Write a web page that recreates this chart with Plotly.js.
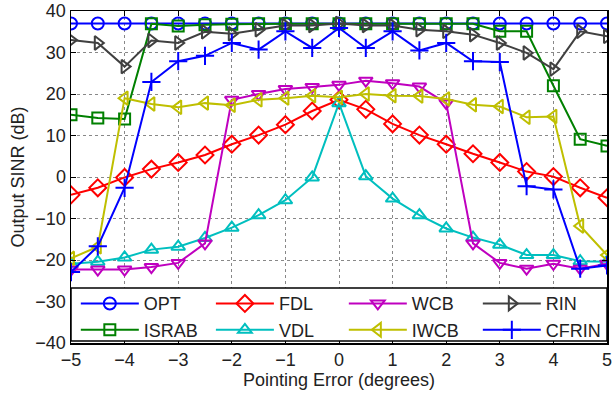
<!DOCTYPE html>
<html><head><meta charset="utf-8">
<script src="https://cdn.plot.ly/plotly-3.0.1.min.js"></script>
<style>body{margin:0;background:#fff}#c{width:612px;height:396px}</style>
</head><body><div id="c"></div>
<script>
const pointingError = [-5,-4.5,-4,-3.5,-3,-2.5,-2,-1.5,-1,-0.5,0,0.5,1,1.5,2,2.5,3,3.5,4,4.5,5];
const OPT   = [37,37,37,37,37,37,37,37,37,37,37,37,37,37,37,37,37,37,37,37,37];
const ISRAB = [15,14.2,14,36.9,36.4,36.7,36.8,36.9,36.9,36.9,36.9,36.9,36.9,36.9,36.9,36.9,35.1,35.1,22,9.1,7.5];
const FDL   = [-4.3,-2.6,-0.1,1.9,3.5,5.3,7.9,10.1,12.6,15.9,18.6,16.3,12.8,10.1,7.9,5.6,3.5,1.3,0.1,-2.6,-5.0];
const VDL   = [-20.9,-20.4,-19.4,-17.5,-16.8,-14.7,-12.2,-9.2,-5.6,-0.1,17.8,0.2,-5.2,-9.2,-12.4,-14.6,-16.3,-18.8,-18.8,-20.3,-20.4];
const WCB   = [-22.3,-22.3,-22.3,-21.7,-20.7,-16.0,18.6,20.0,21.2,21.7,22.2,23.2,22.6,21.8,17.8,-16.0,-20.7,-22.1,-20.9,-22.1,-20.9];
const IWCB  = [-19.6,-16.8,19.0,17.6,16.8,17.8,17.3,18.6,19.0,19.6,19.2,20.0,19.6,19.5,18.8,17.4,17.0,14.4,14.6,-11.8,-18.8];
const RIN   = [33,32.3,26.6,32.9,32.3,35,34.5,35.5,36.5,36.5,37,36.5,36.5,35.5,35.1,34.3,32.3,29.9,26.0,35.1,33.9];
const CFRIN = [-22.9,-16.7,-2.6,22.9,27.9,29.2,32.3,30.7,35.1,31.1,35.9,31.1,35.1,30.5,32.3,27.9,27.7,-2.2,-3.0,-22.1,-21.3];

const names = ['OPT','ISRAB','FDL','VDL','WCB','IWCB','RIN','CFRIN'];
const series = [OPT,ISRAB,FDL,VDL,WCB,IWCB,RIN,CFRIN];
const colors = ['#0000ff','#008000','#ff0000','#00bfbf','#bf00bf','#bfbf00','#404040','#0000ff'];
const symbols = ['circle-open','square-open','diamond-open','triangle-up-open','triangle-down-open','triangle-left-open','triangle-right-open','cross-thin-open'];
const sizes = [12,11,13,12,12,12,12,13];
const legendIds = ['legend','legend','legend2','legend2','legend3','legend3','legend4','legend4'];

const traces = series.map((s,i)=>({
  x: pointingError, y: s, name: names[i], type:'scatter', mode:'lines+markers',
  line:{color:colors[i], width:2},
  marker:{symbol:symbols[i], size:sizes[i], color:colors[i], line:{color:colors[i], width:2}},
  legend: legendIds[i]
}));

const ff = 'Arial, "Liberation Sans", sans-serif';
const font = {family:ff, size:18, color:'#222'};
function leg(xp){
  return {orientation:'v', x:xp, y:0.174, xanchor:'left', yanchor:'top',
    bgcolor:'rgba(0,0,0,0)', borderwidth:0, itemwidth:58, tracegroupgap:0,
    font:{family:ff, size:18, color:'#222'}};
}
const layout = {
  width:612, height:396,
  margin:{l:71, r:5, t:11, b:53},
  paper_bgcolor:'#fff', plot_bgcolor:'#fff',
  font: font,
  showlegend:true,
  shapes:[{type:'rect', xref:'paper', yref:'paper', x0:0, x1:1, y0:0.006, y1:0.166,
    fillcolor:'#fff', line:{color:'#000', width:1.5}, layer:'above'}],
  legend: leg(0.009),
  legend2: leg(0.261),
  legend3: leg(0.509),
  legend4: leg(0.759),
  xaxis:{range:[-5,5], dtick:1, tick0:-5, showgrid:true, gridcolor:'#888', griddash:'dot', gridwidth:1,
    showline:true, linecolor:'#000', linewidth:1.5, mirror:'ticks', ticks:'inside', ticklen:5, tickcolor:'#000',
    zeroline:false, tickfont:{size:18}, ticklabeloverflow:'allow',
    title:{text:'Pointing Error (degrees)', font:{size:18}, standoff:2}},
  yaxis:{range:[-40,40], dtick:10, showgrid:true, gridcolor:'#888', griddash:'dot', gridwidth:1,
    showline:true, linecolor:'#000', linewidth:1.5, mirror:'ticks', ticks:'inside', ticklen:5, tickcolor:'#000',
    zeroline:false, tickfont:{size:18}, ticklabeloverflow:'allow',
    title:{text:'Output SINR (dB)', font:{size:18}, standoff:6}}
};
Plotly.newPlot('c', traces, layout, {staticPlot:true, displayModeBar:false});
</script></body></html>
